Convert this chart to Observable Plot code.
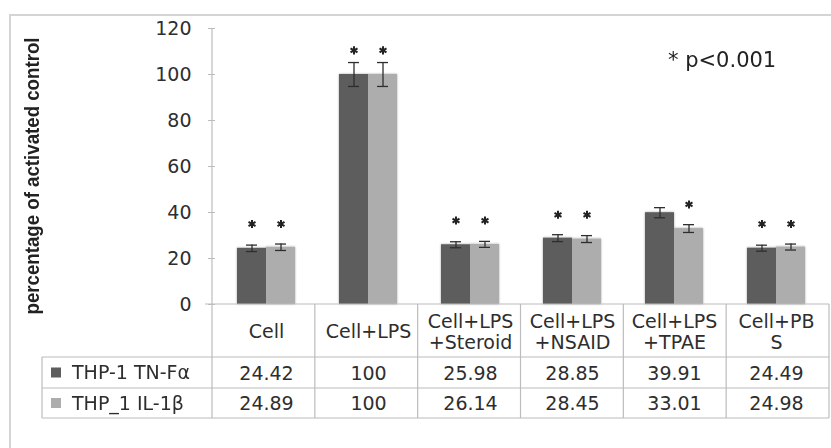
<!DOCTYPE html>
<html>
<head>
<meta charset="utf-8">
<script src="https://cdn.jsdelivr.net/npm/d3@7"></script>
<script src="https://cdn.jsdelivr.net/npm/@observablehq/plot@0.6"></script>
<style>
  html, body { margin: 0; padding: 0; background: #fff; }
  #chart { width: 831px; height: 448px; overflow: hidden; }
</style>
</head>
<body>
<div id="chart"></div>
<script>
// ---- data ----
const categories = ["Cell", "Cell+LPS", "Cell+LPS+Steroid", "Cell+LPS+NSAID", "Cell+LPS+TPAE", "Cell+PBS"];
const headerLabels = ["Cell", "Cell+LPS", "Cell+LPS\n+Steroid", "Cell+LPS\n+NSAID", "Cell+LPS\n+TPAE", "Cell+PB\nS"];
const seriesNames = ["THP-1 TN-F\u03b1", "THP_1 IL-1\u03b2"];
const tnfValues = [24.42, 100, 25.98, 28.85, 39.91, 24.49];
const il1bValues = [24.89, 100, 26.14, 28.45, 33.01, 24.98];
const tnfErrors = [1.4, 5.2, 1.3, 1.5, 2.2, 1.3];
const il1bErrors = [1.4, 5.2, 1.3, 1.5, 1.7, 1.3];
const tnfStars = [35, 110.5, 36.5, 39, null, 35];
const il1bStars = [35, 110.5, 36.5, 39, 43.5, 35];
const yTicks = [0, 20, 40, 60, 80, 100, 120];
const yLabel = "percentage of activated control";
const noteText = "* p<0.001";
const seriesColors = ["#5d5d5d", "#adadad"];

const seriesValues = [tnfValues, il1bValues];
const seriesErrors = [tnfErrors, il1bErrors];
const seriesStars = [tnfStars, il1bStars];

const rows = [];
categories.forEach((c, i) => {
  seriesNames.forEach((s, k) => {
    rows.push({cat: c, series: s, k, value: seriesValues[k][i], err: seriesErrors[k][i], star: seriesStars[k][i]});
  });
});
const headers = categories.map((c, i) => ({cat: c, label: headerLabels[i]}));

const textColor = "#2e2e2e";
const tableFont = 19;

const plot = Plot.plot({
  width: 831,
  height: 448,
  marginLeft: 212,
  marginRight: 2,
  marginTop: 28,
  marginBottom: 144,
  style: {fontFamily: "DejaVu Sans, sans-serif", fontSize: "18px", color: textColor, background: "white", overflow: "visible"},
  fx: {domain: categories, padding: 0, axis: null, label: null},
  x: {domain: seriesNames, paddingInner: 0, paddingOuter: 0.72, axis: null},
  y: {domain: [0, 120], ticks: yTicks, tickSize: 7, tickPadding: 17, label: null},
  color: {domain: seriesNames, range: seriesColors},
  marks: [
    Plot.barY(rows, {fx: "cat", x: "series", y: "value", fill: "series"}),
    Plot.ruleX(rows, {fx: "cat", x: "series", y1: d => d.value - d.err, y2: d => d.value + d.err, stroke: "#2e2e2e", strokeWidth: 1.3}),
    Plot.tickY(rows, {fx: "cat", x: "series", y: d => d.value + d.err, insetLeft: 9, insetRight: 9, stroke: "#2e2e2e", strokeWidth: 1.3}),
    Plot.tickY(rows, {fx: "cat", x: "series", y: d => d.value - d.err, insetLeft: 9, insetRight: 9, stroke: "#2e2e2e", strokeWidth: 1.3}),
    Plot.dot(rows.filter(d => d.star != null), {fx: "cat", x: "series", y: "star", symbol: "asterisk", r: 3.8, stroke: "#222", strokeWidth: 2}),
    Plot.text(headers, {fx: "cat", text: "label", frameAnchor: "bottom", dy: 27, lineAnchor: "middle", lineHeight: 1.1, fontSize: tableFont, fill: textColor}),
    Plot.text(rows.filter(d => d.k === 0), {fx: "cat", text: d => String(d.value), frameAnchor: "bottom", dy: 69, lineAnchor: "middle", fontSize: tableFont, fill: textColor}),
    Plot.text(rows.filter(d => d.k === 1), {fx: "cat", text: d => String(d.value), frameAnchor: "bottom", dy: 99, lineAnchor: "middle", fontSize: tableFont, fill: textColor})
  ]
});

document.getElementById("chart").appendChild(plot);

// ---- decorations using the plot's scales ----
const svg = d3.select(plot);
const fxS = plot.scale("fx");
const yS = plot.scale("y");
const y = d3.scaleLinear(yS.domain, yS.range);
const fxStep = (fxS.range[1] - fxS.range[0]) / fxS.domain.length;
const colEdges = d3.range(fxS.domain.length + 1).map(i => fxS.range[0] + i * fxStep);

const grid = "#bcbcbc";
const top0 = y(0);
const headerBottom = top0 + 53;
const row1Bottom = headerBottom + 31;
const row2Bottom = row1Bottom + 30;
const tableLeft = 42;
const right = colEdges[colEdges.length - 1];

// tick styling
svg.selectAll("[aria-label='y-axis tick'] path, [aria-label='y-axis tick'] line").attr("stroke", grid);
svg.selectAll("[aria-label='y-axis tick label']").attr("font-size", 19).attr("fill", textColor);
svg.selectAll("[aria-label='y-axis tick label'] text").attr("font-size", 19);

// bar soft shadow
const defs = svg.insert("defs", ":first-child");
const f = defs.append("filter").attr("id", "soft").attr("x", "-20%").attr("y", "-5%").attr("width", "140%").attr("height", "110%");
f.append("feDropShadow").attr("dx", 0).attr("dy", 0).attr("stdDeviation", 1.2).attr("flood-color", "#000").attr("flood-opacity", 0.35);
svg.selectAll("[aria-label='bar']").attr("filter", "url(#soft)");

const g = svg.append("g").attr("fill", "none").attr("stroke", grid).attr("stroke-width", 1.2);
// outer border
g.append("rect").attr("x", 10).attr("y", 15).attr("width", 840).attr("height", 450).attr("stroke", "#d4d4d4").attr("stroke-width", 2);
// y-axis line
g.append("line").attr("x1", colEdges[0]).attr("x2", colEdges[0]).attr("y1", y(120)).attr("y2", top0);
// zero line
g.append("line").attr("x1", colEdges[0] - 7).attr("x2", right).attr("y1", top0).attr("y2", top0);
// column lines
colEdges.forEach(x => g.append("line").attr("x1", x).attr("x2", x).attr("y1", top0).attr("y2", row2Bottom));
// horizontal lines
[headerBottom, row1Bottom, row2Bottom].forEach(yy => g.append("line").attr("x1", tableLeft).attr("x2", right).attr("y1", yy).attr("y2", yy));
g.append("line").attr("x1", tableLeft).attr("x2", tableLeft).attr("y1", headerBottom).attr("y2", row2Bottom);

// legend cells
const rowCenters = [(headerBottom + row1Bottom) / 2, (row1Bottom + row2Bottom) / 2];
seriesNames.forEach((s, k) => {
  svg.append("rect").attr("x", 51).attr("y", rowCenters[k] - 5).attr("width", 10).attr("height", 10).attr("fill", seriesColors[k]);
  svg.append("text").attr("x", 72).attr("y", rowCenters[k]).attr("dy", "0.35em")
    .attr("text-anchor", "start")
    .attr("font-size", tableFont).attr("fill", textColor).text(s);
});

// y label
svg.append("text")
  .attr("transform", `translate(39,${(y(120) + top0) / 2 + 10}) rotate(-90)`)
  .attr("text-anchor", "middle")
  .attr("font-family", "'Liberation Sans Narrow', 'Liberation Sans', sans-serif")
  .attr("font-weight", "bold")
  .attr("font-size", 20)
  .attr("textLength", 277)
  .attr("lengthAdjust", "spacingAndGlyphs")
  .attr("fill", "#222")
  .text(yLabel);

// significance note
svg.append("text").attr("x", 668).attr("y", 60).attr("dy", "0.35em")
  .attr("text-anchor", "start")
  .attr("font-size", 21).attr("fill", "#222").text(noteText);
</script>
</body>
</html>
